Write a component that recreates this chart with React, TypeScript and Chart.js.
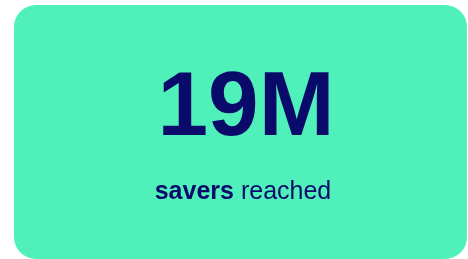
import React, { useEffect, useRef } from "react";
import { Chart, registerables } from "chart.js";

Chart.register(...registerables);

const kpiValue: string[] = ["19M"];
const kpiLabelBold: string[] = ["savers"];
const kpiLabelRest: string[] = ["reached"];

const BG = "#50F0BA";
const INK = "#0A0A6B";

export default function App() {
  const canvasRef = useRef<HTMLCanvasElement | null>(null);

  useEffect(() => {
    if (!canvasRef.current) return;
    const chart = new Chart(canvasRef.current, {
      type: "bar",
      data: { labels: [], datasets: [{ data: [] }] },
      options: {
        animation: false,
        responsive: false,
        plugins: { legend: { display: false }, tooltip: { enabled: false } },
        scales: { x: { display: false }, y: { display: false } },
      },
    });
    return () => chart.destroy();
  }, []);

  return (
    <div
      style={{
        position: "absolute",
        left: 14,
        top: 5,
        width: 453,
        height: 254,
        borderRadius: 22,
        background: BG,
        overflow: "hidden",
        fontFamily: "'Liberation Sans', Arial, sans-serif",
        color: INK,
      }}
    >
      <canvas
        ref={canvasRef}
        width={453}
        height={254}
        style={{ position: "absolute", left: 0, top: 0, width: 453, height: 254 }}
      />
      <div
        style={{
          position: "absolute",
          left: 0,
          width: 464,
          top: 53,
          textAlign: "center",
          fontSize: 91,
          lineHeight: "91px",
          fontWeight: 700,
        }}
      >
        {kpiValue[0]}
      </div>
      <div
        style={{
          position: "absolute",
          left: 0,
          width: 458,
          top: 173,
          textAlign: "center",
          fontSize: 25,
          lineHeight: "24px",
        }}
      >
        <b>{kpiLabelBold[0]}</b> {kpiLabelRest[0]}
      </div>
    </div>
  );
}
